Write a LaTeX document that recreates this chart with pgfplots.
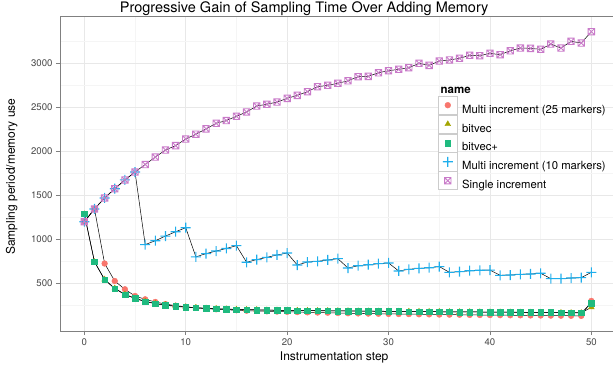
\documentclass[border=0pt]{standalone}
\usepackage{pgfplots}
\pgfplotsset{compat=1.18}
\usepackage{pgfplotstable}
\usepackage{fontspec}
\setmainfont{TeX Gyre Heros}

\definecolor{ggred}{HTML}{F8766D}
\definecolor{ggolive}{HTML}{A3A500}
\definecolor{gggreen}{HTML}{1FBA7F}
\definecolor{ggblue}{HTML}{1EAEEC}
\definecolor{ggpurple}{HTML}{C97BC9}

\pgfdeclareplotmark{boxx}{%
  \pgfpathrectangle{\pgfqpoint{-\pgfplotmarksize}{-\pgfplotmarksize}}{\pgfqpoint{2\pgfplotmarksize}{2\pgfplotmarksize}}%
  \pgfpathmoveto{\pgfqpoint{-\pgfplotmarksize}{-\pgfplotmarksize}}\pgfpathlineto{\pgfqpoint{\pgfplotmarksize}{\pgfplotmarksize}}%
  \pgfpathmoveto{\pgfqpoint{-\pgfplotmarksize}{\pgfplotmarksize}}\pgfpathlineto{\pgfqpoint{\pgfplotmarksize}{-\pgfplotmarksize}}%
  \pgfusepathqstroke}
\pgfdeclareplotmark{fillplus}{%
  \pgfpathrectangle{\pgfqpoint{-\pgfplotmarksize}{-0.55pt}}{\pgfqpoint{2\pgfplotmarksize}{1.1pt}}%
  \pgfpathrectangle{\pgfqpoint{-0.55pt}{-\pgfplotmarksize}}{\pgfqpoint{1.1pt}{2\pgfplotmarksize}}%
  \pgfusepathqfill}

\pgfplotstableread{
x  single  mten  mtwf  bv    bvp
0  1200    1200  1200  1286  1290
1  1345    1345  1345  744   745
2  1470    1470  725   544   540
3  1575    1575  526   443   440
4  1675    1675  432   375   372
5  1765    1765  356   330   328
6  1850    940   318   295   292
7  1935    984   288   271   268
8  2015    1037  264   255   252
9  2065    1086  246   240   237
10 2140    1132  233   231   228
11 2195    800   222   224   222
12 2255    838   212   216   214
13 2318    867   205   212   210
14 2350    896   199   207   205
15 2398    928   194   204   202
16 2447    739   189   201   199
17 2515    770   186   199   197
18 2535    795   182   196   195
19 2560    822   179   194   193
20 2602    844   176   192   191
21 2636    708   173   191   190
22 2678    742   170   190   189
23 2734    750   168   189   188
24 2750    765   166   188   187
25 2773    780   163   187   186
26 2802    674   160   186   185
27 2848    700   158   185   184
28 2852    711   156   184   183
29 2893    723   154   183   182
30 2916    731   152   182   181
31 2932    640   151   181   180
32 2950    659   150   180   179
33 3000    670   148   179   178
34 2977    677   147   178   178
35 3026    690   145   177   177
36 3038    625   144   176   176
37 3057    632   143   175   175
38 3091    643   141   175   175
39 3087    648   140   174   174
40 3114    650   139   173   173
41 3098    591   138   172   172
42 3143    594   137   171   172
43 3174    602   136   170   171
44 3170    606   135   169   170
45 3159    614   134   168   170
46 3219    553   133   167   169
47 3174    553   132   166   168
48 3250    560   131   165   168
49 3231    564   130   164   167
50 3360    625   300   228   272
}\data

\begin{document}
\begin{tikzpicture}
\begin{axis}[
  scale only axis, width=555pt, height=315pt,
  at={(0pt,0pt)}, anchor=south west,
  xmin=-2.4, xmax=52.33, ymin=-42, ymax=3538,
  xtick={0,10,...,50}, ytick={500,1000,...,3000},
  minor xtick={5,15,...,45}, minor ytick={250,750,...,3250},
  grid=both,
  major grid style={color=black!9, line width=0.9pt},
  minor grid style={color=black!4, line width=0.5pt},
  tick align=outside, xtick pos=bottom, ytick pos=left,
  major tick length=4pt, minor tick length=0pt,
  axis line style={color=black!50, line width=0.6pt},
  tick style={color=black!50, line width=0.6pt},
  ticklabel style={font=\fontsize{9.6}{11}\selectfont, text=black!72},
  /pgf/number format/assume math mode=true,
  /pgf/number format/1000 sep={},
  title={Progressive Gain of Sampling Time Over Adding Memory},
  title style={font=\fontsize{14.5}{16}\selectfont, at={(axis description cs:0.44,1)}, anchor=base, yshift=-2.7pt, inner sep=0pt},
  xlabel={Instrumentation step},
  xlabel style={font=\fontsize{12}{14}\selectfont, at={(axis description cs:0.494,0)}, anchor=base, yshift=-29pt, inner sep=0pt},
  ylabel={Sampling period/memory use},
  ylabel style={font=\fontsize{12}{14}\selectfont, at={(axis description cs:0,0.49)}, anchor=base, yshift=45pt, inner sep=0pt},
  legend image code/.code={%
    \draw[draw=black!20, fill=white, line width=0.6pt] (0pt,-4.5pt) rectangle (18.2pt,13.7pt);
    \draw plot coordinates {(9.1pt,4.6pt)};},
  legend style={at={(axis description cs:0.6818,0.7467)}, anchor=north west,
    draw=none, fill=none, inner sep=0pt, outer sep=0pt,
    row sep=0pt, column sep=5pt, font=\fontsize{11.3}{13}\selectfont,
    nodes={inner sep=0pt, text=black}},
  legend cell align=left,
]
\addplot[black, line width=0.5pt, forget plot] table[x=x,y=mtwf]{\data};
\addplot[black, line width=0.5pt, forget plot] table[x=x,y=bv]{\data};
\addplot[black, line width=0.5pt, forget plot] table[x=x,y=bvp]{\data};
\addplot[black, line width=0.5pt, forget plot] table[x=x,y=mten]{\data};
\addplot[black, line width=0.5pt, forget plot] table[x=x,y=single]{\data};

\addplot[only marks, mark=*, mark size=2.9pt, color=ggred, mark options={draw=ggred, fill=ggred}] table[x=x,y=mtwf]{\data};
\addlegendentry{Multi increment (25 markers)}
\addplot[only marks, mark=triangle*, mark size=3.3pt, color=ggolive, mark options={draw=ggolive, fill=ggolive}] table[x=x,y=bv]{\data};
\addlegendentry{bitvec}
\addplot[only marks, mark=square*, mark size=2.8pt, color=gggreen, mark options={draw=gggreen, fill=gggreen}] table[x=x,y=bvp]{\data};
\addlegendentry{bitvec+}
\addplot[only marks, mark=fillplus, mark size=5pt, color=ggblue, mark options={draw=none, fill=ggblue}] table[x=x,y=mten]{\data};
\addlegendentry{Multi increment (10 markers)}
\addplot[only marks, mark=boxx, mark size=3.2pt, color=ggpurple, mark options={draw=ggpurple, line width=0.9pt}] table[x=x,y=single]{\data};
\addlegendentry{Single increment}
\end{axis}
\node[anchor=base west, inner sep=0pt, font=\bfseries\fontsize{11.5}{13}\selectfont] at (380.5pt,237.5pt) {name};
\pgfresetboundingbox
\path[use as bounding box] (-60pt,-41pt) rectangle (553pt,331pt);
\end{tikzpicture}
\end{document}
